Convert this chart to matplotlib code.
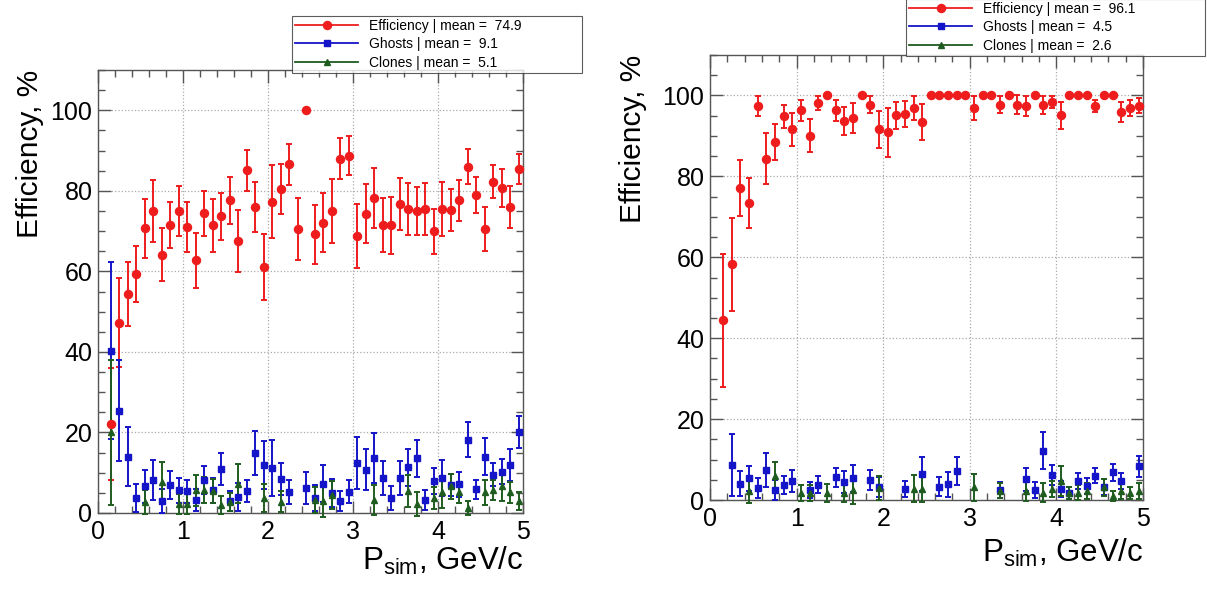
import numpy as np
import matplotlib
matplotlib.use("Agg")
import matplotlib.pyplot as plt
from matplotlib.lines import Line2D
from matplotlib.ticker import MultipleLocator

plt.rcParams['font.family'] = ['Liberation Sans', 'DejaVu Sans']
plt.rcParams['mathtext.fontset'] = 'custom'
plt.rcParams['mathtext.rm'] = 'Liberation Sans'

# bin centres, GeV/c
p_bins = [0.15, 0.25, 0.35, 0.45, 0.55, 0.65, 0.75, 0.85, 0.95, 1.05,
          1.15, 1.25, 1.35, 1.45, 1.55, 1.65, 1.75, 1.85, 1.95, 2.05,
          2.15, 2.25, 2.35, 2.45, 2.55, 2.65, 2.75, 2.85, 2.95, 3.05,
          3.15, 3.25, 3.35, 3.45, 3.55, 3.65, 3.75, 3.85, 3.95, 4.05,
          4.15, 4.25, 4.35, 4.45, 4.55, 4.65, 4.75, 4.85, 4.95]
nan = np.nan

# ---- left panel ----
eff_l = [22.1, 47.3, 54.4, 59.3, 70.7, 75.0, 64.1, 71.5, 75.0, 70.9,
         62.7, 74.4, 71.4, 73.7, 77.6, 67.6, 85.1, 76.0, 61.2, 77.3,
         80.4, 86.6, 70.5, 100.0, 69.2, 72.1, 75.0, 88.0, 88.7, 68.8,
         74.3, 78.2, 71.5, 71.4, 76.8, 75.5, 75.0, 75.5, 70.0, 75.5,
         75.3, 77.6, 86.0, 78.9, 70.5, 82.3, 80.7, 76.0, 85.4]
eff_l_err = [14.0, 11.0, 8.0, 7.0, 7.3, 7.7, 6.6, 5.7, 6.3, 6.2,
             6.8, 5.6, 6.5, 5.8, 5.9, 7.7, 5.1, 6.2, 8.2, 9.0,
             6.2, 5.1, 7.8, 0.0, 7.3, 7.4, 8.0, 5.0, 4.8, 8.0,
             7.3, 7.4, 6.7, 7.0, 6.5, 6.5, 6.0, 6.4, 5.6, 6.7,
             5.2, 5.1, 4.4, 4.5, 5.5, 4.0, 4.6, 5.2, 3.8]
gh_l = [40.3, 25.4, 14.0, 3.7, 6.6, 8.2, 3.0, 7.0, 5.6, 5.4,
        3.2, 8.2, 5.6, 10.9, 3.0, 4.0, 5.4, 14.9, 11.9, 11.1,
        8.4, 5.3, nan, 6.3, 3.7, 7.3, 4.9, 3.0, 5.3, 12.4,
        10.8, 13.7, 8.7, 3.7, 8.7, 11.3, 13.6, 3.2, 8.0, 8.6,
        6.9, 7.1, 18.2, 5.9, 14.0, 9.5, 10.3, 12.0, 20.2]
gh_l_err = [22.0, 12.6, 7.3, 3.4, 4.2, 5.0, 3.0, 3.5, 3.0, 2.8,
            2.8, 3.5, 3.0, 4.0, 2.5, 3.5, 2.7, 5.5, 6.0, 7.0,
            4.0, 3.0, 0.0, 4.0, 3.2, 4.5, 3.5, 2.5, 2.8, 6.5,
            5.2, 6.2, 4.3, 3.0, 4.3, 4.6, 4.6, 2.5, 3.2, 4.5,
            2.8, 3.2, 4.3, 2.3, 4.5, 2.8, 3.0, 4.0, 4.0]
cl_l = [20.0, nan, nan, nan, 2.7, nan, 7.6, nan, 2.3, 2.3,
        5.6, 5.7, 5.4, 2.0, 2.7, 7.3, nan, nan, 3.7, nan,
        2.8, nan, nan, nan, 3.3, 3.0, 4.5, nan, nan, nan,
        nan, 3.2, nan, nan, nan, 5.5, 2.3, nan, 3.7, 5.3,
        6.6, 5.1, 1.2, nan, 5.1, 5.7, 6.7, 5.1, 3.0]
cl_l_err = [18.0, 0, 0, 0, 3.0, 0, 5.0, 0, 2.5, 2.5,
            3.8, 3.2, 3.0, 2.2, 2.2, 4.8, 0, 0, 3.5, 0,
            2.6, 0, 0, 0, 3.2, 4.0, 3.5, 0, 0, 0,
            0, 3.8, 0, 0, 0, 4.0, 3.0, 0, 2.8, 4.0,
            3.0, 2.5, 1.8, 0, 3.0, 2.5, 3.8, 2.7, 2.3]
labels_l = ["Efficiency | mean =  74.9", "Ghosts | mean =  9.1", "Clones | mean =  5.1"]

# ---- right panel ----
eff_r = [44.4, 58.3, 77.1, 73.5, 97.4, 84.4, 88.5, 94.8, 91.6, 96.3,
         90.1, 98.1, 100.0, 96.3, 93.7, 94.5, 100.0, 97.7, 91.6, 90.9,
         95.1, 95.5, 96.9, 93.4, 100.0, 100.0, 100.0, 100.0, 100.0, 96.9,
         100.0, 100.0, 97.7, 100.0, 97.7, 97.4, 100.0, 97.7, 98.4, 95.1,
         100.0, 100.0, 100.0, 97.5, 100.0, 100.0, 95.9, 96.9, 97.5]
eff_r_err = [16.5, 11.5, 7.0, 6.2, 2.4, 6.4, 4.4, 2.9, 4.0, 2.5,
             4.1, 1.7, 0.0, 2.5, 3.4, 3.7, 0.0, 2.1, 4.5, 6.1,
             3.4, 3.2, 2.9, 4.4, 0.0, 0.0, 0.0, 0.0, 0.0, 3.0,
             0.0, 0.0, 2.1, 0.0, 2.3, 2.4, 0.0, 2.2, 1.5, 3.3,
             0.0, 0.0, 0.0, 1.5, 0.0, 0.0, 2.5, 2.1, 1.8]
gh_r = [nan, 8.6, 4.0, 5.4, 3.0, 7.4, 2.5, 3.8, 4.8, nan,
        2.4, 3.8, nan, 5.6, 4.4, 5.4, nan, 4.9, 3.3, nan,
        nan, 2.8, nan, 6.5, nan, 3.3, 3.9, 7.2, nan, nan,
        nan, nan, 2.4, nan, nan, 5.1, 2.5, 12.2, 6.2, 2.8,
        1.7, 4.6, 3.5, 6.0, 3.3, 6.8, 4.7, nan, 8.3]
gh_r_err = [0, 7.7, 3.1, 3.1, 2.5, 4.3, 2.5, 2.2, 2.7, 0,
            2.0, 2.1, 0, 2.4, 2.7, 3.3, 0, 2.4, 2.5, 0,
            0, 2.0, 0, 4.2, 0, 2.3, 3.1, 3.4, 0, 0,
            0, 0, 2.0, 0, 0, 2.9, 2.0, 4.6, 2.4, 2.0,
            1.5, 2.0, 2.0, 1.8, 2.0, 2.1, 2.0, 0, 2.7]
cl_r = [nan, nan, nan, 2.2, nan, nan, 5.9, nan, nan, 1.8,
        1.8, nan, 1.8, nan, 1.8, 2.4, nan, nan, 3.0, nan,
        nan, nan, 2.8, 2.8, nan, nan, nan, nan, nan, 3.1,
        nan, nan, 2.3, nan, nan, 2.2, nan, 1.8, 2.7, 4.7,
        1.7, 1.8, 2.2, nan, 3.1, 1.0, 2.2, 1.8, 2.2]
cl_r_err = [0, 0, 0, 3.0, 0, 0, 3.5, 0, 0, 2.0,
            2.0, 0, 2.2, 0, 2.2, 3.4, 0, 0, 2.9, 0,
            0, 0, 3.3, 3.3, 0, 0, 0, 0, 0, 3.3,
            0, 0, 1.9, 0, 0, 2.4, 0, 2.3, 2.0, 3.6,
            1.5, 1.8, 2.0, 0, 2.0, 1.2, 2.0, 1.5, 1.9]
labels_r = ["Efficiency | mean =  96.1", "Ghosts | mean =  4.5", "Clones | mean =  2.6"]

RED = '#ee1c1c'
BLUE = '#1414c8'
GREEN = '#1f5c1f'
FRAME = '#555555'


def draw_panel(ax, series, labels, legend_rect, ylab_x, xlab_y):
    styles = [(RED, 'o', 5.8), (BLUE, 's', 4.3), (GREEN, '^', 3.8)]
    handles = []
    for (vals, errs), (col, mk, ms) in zip(series, styles):
        ax.errorbar(p_bins, vals, yerr=errs, fmt=mk, color=col, ms=ms,
                    elinewidth=1.4, capsize=2.2, capthick=1.4, mec=col,
                    clip_on=False, zorder=3)
        handles.append(Line2D([], [], color=col, marker=mk, ms=ms, lw=1.3))

    ax.set_xlim(0, 5)
    ax.set_ylim(0, 110)
    ax.xaxis.set_major_locator(MultipleLocator(1))
    ax.xaxis.set_minor_locator(MultipleLocator(0.2))
    ax.yaxis.set_major_locator(MultipleLocator(20))
    ax.yaxis.set_minor_locator(MultipleLocator(5))
    ax.tick_params(which='both', direction='in', top=True, right=True,
                   color=FRAME, labelsize=18)
    ax.tick_params(which='major', length=9, width=1.0)
    ax.tick_params(which='minor', length=5, width=1.0)
    ax.tick_params(axis='y', pad=4)
    ax.tick_params(axis='x', pad=5)
    ax.grid(True, which='major', color='#aaaaaa', ls=':', lw=0.9)
    ax.set_axisbelow(True)
    for s in ax.spines.values():
        s.set_color(FRAME)
        s.set_linewidth(1.0)

    ax.text(ylab_x, 1.0, "Efficiency, %", rotation=90, ha='center', va='top',
            fontsize=21.5, transform=ax.transAxes)
    ax.text(1.0, xlab_y, r"P$_{\rm sim}$, GeV/c", ha='right', va='top',
            fontsize=22.5, transform=ax.transAxes)

    x0, y0, w, h = legend_rect
    leg = ax.legend(handles, labels, loc='lower left', mode='expand',
                    bbox_to_anchor=(x0, y0, w, h), bbox_transform=fig.transFigure,
                    fontsize=10, frameon=True, fancybox=False, borderpad=0.25,
                    labelspacing=0.3, handlelength=4.5, handletextpad=0.8,
                    borderaxespad=0)
    leg.get_frame().set_edgecolor('#333333')
    leg.get_frame().set_linewidth(0.8)
    leg.set_zorder(10)


fig = plt.figure(figsize=(12.07, 5.92), dpi=100)
ax_l = fig.add_axes([98 / 1207, 1 - 513 / 592, 425 / 1207, 443 / 592])
ax_r = fig.add_axes([710 / 1207, 1 - 500 / 592, 433 / 1207, 445 / 592])

draw_panel(ax_l, [(eff_l, eff_l_err), (gh_l, gh_l_err), (cl_l, cl_l_err)], labels_l,
           (292 / 1207, 1 - 73 / 592, 290 / 1207, 55 / 592), -0.16, -0.072)
draw_panel(ax_r, [(eff_r, eff_r_err), (gh_r, gh_r_err), (cl_r, cl_r_err)], labels_r,
           (906 / 1207, 1 - 56 / 592, 299 / 1207, 55 / 592), -0.178, -0.082)

fig.savefig("out.png", dpi=100)
